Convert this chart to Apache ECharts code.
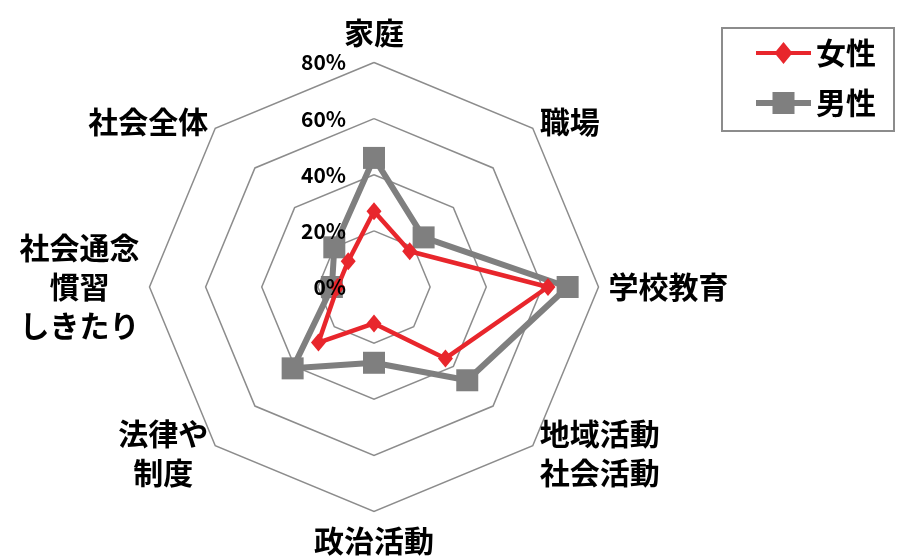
<!DOCTYPE html>
<html>
<head>
<meta charset="utf-8">
<script src="https://cdn.jsdelivr.net/npm/echarts@6/dist/echarts.min.js"></script>
<style>
  html, body { margin: 0; padding: 0; background: #fff; }
  #chart { width: 904px; height: 557px; }
</style>
</head>
<body>
<div id="chart"></div>
<script>
// Areas, listed clockwise starting from the top spoke
const categories = ['家庭', '職場', '学校教育', '地域活動\n社会活動', '政治活動', '法律や\n制度', '社会通念\n慣習\nしきたり', '社会全体'];
// Share (%) per area
const women = [27, 18, 62, 36, 13, 28, 13, 13];
const men = [46, 25, 69, 47, 27, 41, 15, 20];
// Ring labels from the centre outwards
const tickLabels = ['0%', '20%', '40%', '60%', '80%'];
const tickStep = 20;
const axisMax = 80;

const FONT = "'Noto Sans CJK JP', 'Noto Sans', sans-serif";
const RED = '#e8262c';
const GRAY = '#7f7f7f';
const CENTER = [374, 287];
const RADIUS = 224.5;

// ECharts lays radar spokes out counter-clockwise, so walk the lists backwards
const order = categories.map((_, i) => (categories.length - i) % categories.length);
const pick = arr => order.map(i => arr[i]);

const baseIndicators = () => order.map(i => ({ name: categories[i], min: 0, max: axisMax }));

// Overlay copy of the axes that carries only the ring labels on the top spoke,
// so the percentages stay readable above the lines
const labelIndicators = baseIndicators();
labelIndicators[0].axisLabel = {
  show: true,
  color: '#000',
  fontSize: 21,
  fontWeight: 'bold',
  fontFamily: FONT,
  margin: 28,
  padding: [7, 0, 0, 0],
  formatter: v => tickLabels[Math.round(v / tickStep)]
};

// Legend markers: line segment with the series symbol on top
const diamondIcon = 'path://M0,9L55,9L55,13L0,13Z M27.5,0L36.5,11L27.5,22L18.5,11Z';
const squareIcon = 'path://M0,8L55,8L55,14L0,14Z M16.5,0L38.5,0L38.5,22L16.5,22Z';

const chart = echarts.init(document.getElementById('chart'), null, { renderer: 'canvas' });
chart.setOption({
  animation: false,
  backgroundColor: '#fff',
  legend: {
    orient: 'vertical',
    left: 722,
    top: 28,
    padding: [10, 18, 13, 34],
    itemGap: 20,
    itemWidth: 55,
    itemHeight: 22,
    borderColor: '#8c8c8c',
    borderWidth: 2,
    selectedMode: false,
    textStyle: { fontSize: 30, fontWeight: 'bold', fontFamily: FONT, color: '#000' },
    data: [
      { name: '女性', icon: diamondIcon, itemStyle: { color: RED } },
      { name: '男性', icon: squareIcon, itemStyle: { color: GRAY } }
    ]
  },
  radar: [
    {
      center: CENTER,
      radius: RADIUS,
      startAngle: 90,
      splitNumber: axisMax / tickStep,
      shape: 'polygon',
      nameGap: 10,
      axisName: {
        color: '#000',
        fontSize: 30,
        fontWeight: 'bold',
        fontFamily: FONT,
        lineHeight: 39,
        formatter: name => name.split('\n').map(s => '{c|' + s + '}').join('\n'),
        rich: {
          c: { fontSize: 30, fontWeight: 'bold', fontFamily: FONT, color: '#000', lineHeight: 39, align: 'center' }
        }
      },
      axisLine: { show: false },
      axisTick: { show: false },
      axisLabel: { show: false },
      splitLine: { lineStyle: { color: '#8c8c8c', width: 1.5 } },
      splitArea: { show: false },
      indicator: baseIndicators()
    },
    {
      z: 10,
      center: CENTER,
      radius: RADIUS,
      startAngle: 90,
      splitNumber: axisMax / tickStep,
      shape: 'polygon',
      axisName: { show: false },
      axisLine: { show: false },
      axisTick: { show: false },
      axisLabel: { show: false },
      splitLine: { show: false },
      splitArea: { show: false },
      indicator: labelIndicators
    }
  ],
  series: [
    {
      type: 'radar',
      radarIndex: 0,
      z: 2,
      color: GRAY,
      symbol: 'rect',
      symbolSize: 22,
      lineStyle: { color: GRAY, width: 6 },
      itemStyle: { color: GRAY },
      data: [{ name: '男性', value: pick(men) }]
    },
    {
      type: 'radar',
      radarIndex: 0,
      z: 3,
      color: RED,
      symbol: 'diamond',
      symbolSize: [15, 18],
      lineStyle: { color: RED, width: 4.5 },
      itemStyle: { color: RED },
      data: [{ name: '女性', value: pick(women) }]
    }
  ]
});
</script>
</body>
</html>
